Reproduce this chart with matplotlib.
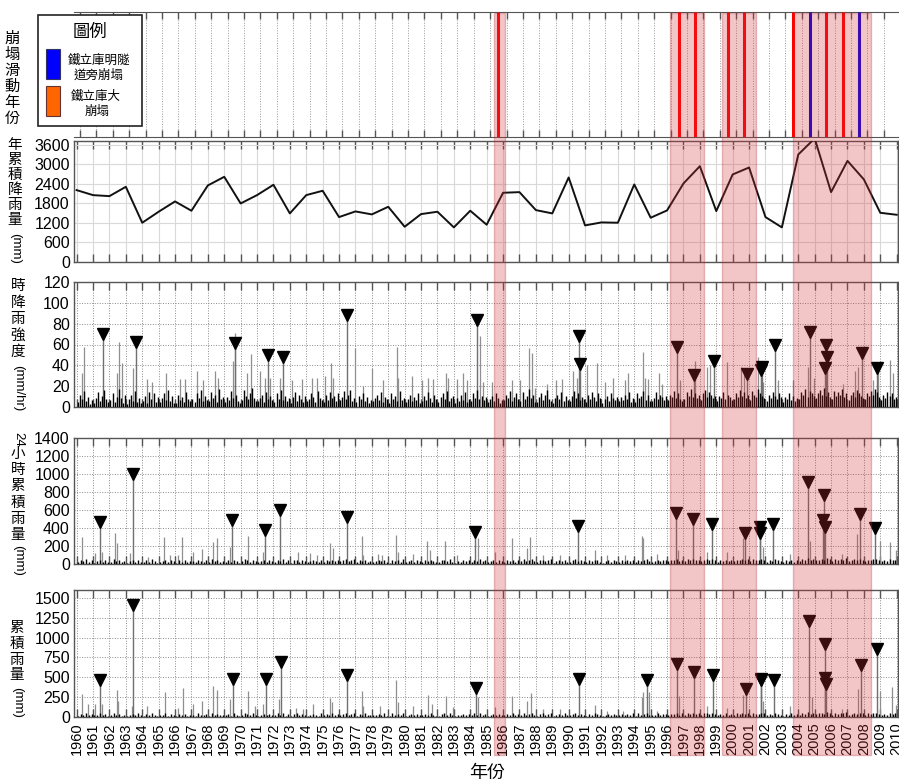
import matplotlib
matplotlib.use("Agg")
import matplotlib.pyplot as plt
import numpy as np
from matplotlib.patches import Rectangle
from matplotlib.transforms import blended_transform_factory

plt.rcParams['font.family'] = ['Liberation Sans', 'Noto Sans CJK TC', 'DejaVu Sans']
CJK = ['Noto Sans CJK TC', 'DejaVu Sans']

# ---------------- data ----------------
years = list(range(1960, 2011))
annual_rain = [2210, 2056, 2025, 2312, 1207, 1545, 1862, 1576, 2353, 2619,
               1800, 2056, 2374, 1494, 2056, 2190, 1381, 1555, 1463, 1698,
               1084, 1473, 1545, 1064, 1576, 1146, 2128, 2148, 1596, 1494,
               2599, 1125, 1217, 1207, 2384, 1361, 1586, 2415, 2946, 1565,
               2691, 2905, 1381, 1064, 3305, 3800, 2148, 3109, 2538, 1513, 1452]

# landslide events (decimal year) and type
event_red = [1985.7, 1996.7, 1997.7, 1999.7, 2000.7, 2003.7, 2005.7, 2006.7]
event_blue = [2004.7, 2007.7]

# highlighted periods (start, end)
periods = [(1985.43, 1986.13), (1996.18, 1998.27), (1999.33, 2001.42), (2003.68, 2008.44)]

# hourly intensity: per-year background maxima (8 per year)
floor_hr = [
    [5, 12, 8, 15, 6, 10, 3, 7], [4, 9, 14, 6, 11, 16, 8, 5], [7, 13, 5, 10, 17, 9, 4, 12],
    [3, 8, 12, 6, 15, 5, 9, 4], [6, 11, 4, 14, 8, 13, 5, 10], [5, 9, 13, 7, 16, 6, 11, 4],
    [4, 12, 7, 10, 5, 14, 8, 6], [8, 5, 13, 9, 16, 6, 11, 7], [6, 14, 9, 12, 5, 17, 8, 10],
    [5, 10, 7, 15, 9, 12, 6, 4], [7, 16, 11, 8, 13, 18, 9, 6], [6, 9, 12, 5, 14, 8, 11, 7],
    [5, 13, 8, 16, 7, 11, 6, 9], [4, 10, 14, 6, 12, 8, 5, 11], [6, 8, 13, 10, 5, 15, 9, 7],
    [5, 12, 7, 14, 9, 11, 6, 13], [7, 10, 15, 8, 12, 16, 6, 9], [5, 11, 8, 13, 6, 10, 4, 7],
    [6, 9, 12, 7, 14, 5, 10, 8], [4, 13, 8, 11, 6, 15, 7, 9], [5, 8, 12, 6, 10, 7, 13, 4],
    [6, 11, 7, 14, 9, 5, 12, 8], [5, 10, 13, 8, 15, 6, 9, 11], [4, 9, 6, 12, 7, 14, 5, 8],
    [6, 13, 9, 16, 8, 11, 7, 10], [5, 8, 11, 6, 13, 9, 4, 7], [7, 12, 9, 15, 6, 10, 13, 8],
    [6, 14, 8, 11, 17, 9, 12, 5], [5, 10, 13, 7, 12, 16, 8, 6], [4, 9, 12, 8, 14, 6, 11, 7],
    [6, 11, 15, 9, 13, 7, 10, 8], [5, 12, 8, 14, 10, 6, 13, 9], [4, 8, 11, 6, 13, 9, 7, 10],
    [6, 10, 7, 12, 8, 14, 5, 9], [5, 13, 9, 11, 15, 7, 12, 6], [6, 9, 14, 8, 12, 10, 7, 11],
    [7, 12, 10, 15, 9, 13, 8, 6], [8, 14, 11, 17, 10, 13, 9, 12], [7, 13, 16, 10, 14, 12, 9, 11],
    [6, 11, 9, 14, 8, 12, 10, 7], [8, 13, 10, 16, 11, 14, 9, 12], [7, 15, 12, 10, 17, 13, 11, 9],
    [6, 12, 9, 14, 11, 8, 13, 10], [5, 10, 8, 13, 7, 11, 6, 9], [8, 14, 12, 17, 10, 15, 13, 11],
    [9, 13, 16, 12, 18, 11, 14, 10], [8, 15, 11, 14, 12, 17, 10, 13], [7, 12, 14, 10, 16, 13, 11, 9],
    [8, 13, 11, 15, 12, 17, 14, 10], [7, 12, 9, 14, 11, 13, 8, 10]]

spike_hr_t = [1960.45, 1960.30, 1962.44, 1962.58, 1962.74, 1963.45, 1964.27, 1964.57, 1965.43,
              1966.30, 1966.60, 1967.32, 1967.72, 1968.43, 1968.63, 1969.55, 1969.65, 1970.40,
              1970.61, 1971.18, 1971.48, 1971.79, 1972.40, 1973.13, 1973.72, 1974.33, 1974.63,
              1975.14, 1975.49, 1975.65, 1976.97, 1977.48, 1977.99, 1978.70, 1979.51, 1979.61,
              1980.43, 1981.04, 1981.44, 1981.74, 1982.50, 1982.66, 1983.17, 1983.57, 1983.78,
              1984.59, 1984.79, 1985.30, 1986.52, 1987.03, 1987.56, 1987.74, 1987.95, 1988.66,
              1989.23, 1989.61, 1990.28, 1990.49, 1991.10, 1991.71, 1992.21, 1992.72, 1993.43,
              1993.64, 1994.51, 1994.65, 1994.86, 1995.50, 1995.67, 1996.79, 1997.70, 1998.41,
              1998.62, 1999.63, 2000.49, 2000.69, 2001.56, 2001.73, 2001.87, 2002.78, 2003.70,
              2004.61, 2004.96, 2006.75, 2007.46, 2007.66, 2008.57, 2008.88, 2009.59, 2009.79]
spike_hr_v = [58, 33, 33, 62, 42, 37, 27, 24, 33, 27, 27, 35, 26, 35, 28, 44, 71, 33, 51, 35,
              28, 28, 28, 26, 27, 28, 28, 30, 42, 28, 57, 20, 37, 26, 58, 28, 30, 26, 28, 27,
              33, 28, 27, 33, 26, 68, 24, 24, 26, 26, 57, 52, 18, 22, 26, 27, 35, 28, 40, 42,
              24, 28, 26, 33, 53, 28, 27, 33, 22, 26, 44, 38, 40, 43, 38, 35, 48, 44, 24, 26,
              26, 38, 28, 22, 35, 38, 26, 38, 45, 33]

tri_hr_t = [1961.60, 1963.60, 1969.65, 1971.65, 1972.56, 1976.50, 1984.43, 1990.65, 1990.70,
            1996.60, 1997.66, 1998.84, 2000.90, 2001.75, 2001.80, 2002.58, 2004.71, 2005.67,
            2005.73, 2005.63, 2007.87, 2008.80]
tri_hr_v = [70, 62, 61, 50, 48, 88, 84, 68, 41, 58, 31, 44, 32, 36, 38, 60, 72, 60, 48, 37, 52, 37]

# 24-hour accumulated rainfall
floor_24 = [
    [20, 45, 30, 60, 25, 40], [15, 35, 50, 25, 40, 20], [25, 55, 30, 45, 20, 35], [15, 30, 45, 20, 50, 25],
    [20, 40, 25, 55, 30, 15], [25, 35, 50, 20, 45, 30], [15, 45, 25, 40, 20, 35], [30, 20, 50, 35, 25, 45],
    [20, 55, 35, 45, 25, 30], [25, 40, 20, 50, 35, 15], [30, 60, 40, 25, 50, 35], [20, 35, 45, 25, 40, 30],
    [25, 50, 30, 55, 20, 40], [15, 40, 50, 25, 45, 30], [20, 30, 45, 35, 20, 50], [25, 45, 30, 50, 35, 40],
    [30, 40, 55, 30, 45, 60], [20, 45, 30, 50, 25, 35], [25, 35, 45, 30, 50, 20], [15, 50, 30, 40, 25, 55],
    [20, 30, 45, 25, 40, 30], [25, 40, 30, 50, 35, 20], [20, 45, 50, 30, 55, 25], [15, 35, 25, 45, 30, 40],
    [25, 50, 35, 55, 30, 40], [20, 30, 40, 25, 45, 35], [25, 45, 35, 50, 25, 40], [30, 55, 30, 40, 60, 35],
    [20, 40, 50, 30, 45, 55], [15, 35, 45, 30, 50, 25], [25, 40, 55, 35, 45, 30], [20, 45, 30, 50, 40, 25],
    [15, 30, 40, 25, 45, 35], [25, 40, 30, 45, 30, 50], [20, 50, 35, 40, 55, 30], [25, 35, 50, 30, 45, 40],
    [30, 45, 40, 55, 35, 50], [35, 55, 45, 60, 40, 50], [30, 50, 60, 40, 55, 45], [25, 45, 35, 50, 30, 40],
    [35, 50, 40, 60, 45, 55], [30, 55, 45, 40, 60, 50], [25, 45, 35, 55, 40, 30], [20, 40, 30, 50, 25, 45],
    [35, 55, 45, 65, 40, 60], [40, 50, 60, 45, 65, 55], [35, 60, 45, 55, 50, 65], [30, 45, 55, 40, 60, 50],
    [35, 50, 45, 60, 55, 40], [30, 45, 35, 55, 40, 50]]

spike_24_t = [1960.30, 1961.12, 1961.52, 1962.34, 1962.44, 1963.25, 1964.37, 1965.34, 1965.69, 1966.20,
              1966.40, 1967.11, 1967.62, 1968.33, 1968.54, 1969.35, 1970.47, 1971.38, 1973.52, 1974.23,
              1974.63, 1975.45, 1975.65, 1977.40, 1977.48, 1978.39, 1978.60, 1979.45, 1979.61, 1980.53,
              1981.34, 1981.54, 1982.46, 1983.17, 1984.49, 1985.51, 1986.52, 1987.44, 1987.64, 1988.45,
              1989.47, 1991.60, 1992.32, 1993.43, 1994.45, 1994.55, 1995.37, 1996.69, 1998.41, 1999.63,
              2000.60, 2001.87, 2003.49, 2004.71, 2006.64, 2007.56, 2008.98, 2009.59, 2009.95]
spike_24_v = [305, 119, 135, 340, 228, 121, 82, 300, 97, 97, 305, 135, 170, 247, 290, 194, 315, 135,
              135, 121, 97, 228, 174, 315, 97, 111, 97, 320, 135, 111, 261, 155, 261, 97, 287, 135,
              287, 174, 297, 97, 97, 155, 97, 97, 313, 290, 111, 155, 135, 135, 290, 194, 111, 261,
              111, 329, 261, 247, 155]

tri_24_t = [1961.42, 1963.45, 1969.49, 1971.48, 1972.40, 1976.46, 1984.29, 1990.55, 1996.52, 1997.56,
            1998.74, 2000.75, 2001.67, 2001.67, 2002.44, 2004.61, 2005.57, 2005.53, 2005.65, 2007.76, 2008.68]
tri_24_v = [472, 995, 484, 380, 603, 517, 361, 424, 566, 500, 447, 350, 410, 350, 447, 913, 771, 492,
            416, 559, 399]

# event accumulated rainfall
floor_acc = [
    [15, 40, 25, 50, 20, 35], [20, 30, 45, 20, 35, 15], [20, 45, 25, 40, 15, 30], [15, 25, 40, 20, 45, 20],
    [15, 35, 20, 50, 25, 15], [20, 30, 45, 15, 40, 25], [15, 40, 20, 35, 15, 30], [25, 15, 45, 30, 20, 40],
    [15, 50, 30, 40, 20, 25], [20, 35, 15, 45, 30, 15], [25, 50, 35, 20, 45, 30], [15, 30, 40, 20, 35, 25],
    [20, 45, 25, 50, 15, 35], [15, 35, 45, 20, 40, 25], [15, 25, 40, 30, 15, 45], [20, 40, 25, 45, 30, 35],
    [25, 35, 50, 25, 40, 55], [15, 40, 25, 45, 20, 30], [20, 30, 40, 25, 45, 15], [15, 45, 25, 35, 20, 50],
    [15, 25, 40, 20, 35, 25], [20, 35, 25, 45, 30, 15], [15, 40, 45, 25, 50, 20], [15, 30, 20, 40, 25, 35],
    [20, 45, 30, 50, 25, 35], [15, 25, 35, 20, 40, 30], [20, 40, 30, 45, 20, 35], [25, 50, 25, 35, 55, 30],
    [15, 35, 45, 25, 40, 50], [15, 30, 40, 25, 45, 20], [20, 35, 50, 30, 40, 25], [15, 40, 25, 45, 35, 20],
    [15, 25, 35, 20, 40, 30], [20, 35, 25, 40, 25, 45], [15, 45, 30, 35, 50, 25], [20, 30, 45, 25, 40, 35],
    [25, 40, 35, 50, 30, 45], [30, 50, 40, 55, 35, 45], [25, 45, 55, 35, 50, 40], [20, 40, 30, 45, 25, 35],
    [30, 45, 35, 55, 40, 50], [25, 50, 40, 35, 55, 45], [20, 40, 30, 50, 35, 25], [15, 35, 25, 45, 20, 40],
    [30, 50, 40, 60, 35, 55], [35, 45, 55, 40, 60, 50], [30, 55, 40, 50, 45, 60], [25, 40, 50, 35, 55, 45],
    [30, 45, 40, 55, 50, 35], [25, 40, 30, 50, 35, 45]]

spike_acc_t = [1960.30, 1960.71, 1961.12, 1961.52, 1962.44, 1962.54, 1963.35, 1964.27, 1965.38, 1966.20,
               1966.46, 1967.11, 1967.62, 1968.33, 1968.57, 1969.35, 1970.47, 1970.87, 1971.38, 1972.36,
               1973.37, 1973.82, 1974.43, 1975.45, 1975.55, 1977.38, 1977.48, 1978.50, 1979.47, 1979.61,
               1980.53, 1981.44, 1981.65, 1982.50, 1982.97, 1984.49, 1985.51, 1986.52, 1987.44, 1987.68,
               1988.45, 1989.47, 1991.60, 1992.32, 1993.33, 1994.45, 1994.55, 1994.92, 1995.37, 1996.74,
               1998.41, 1999.63, 2000.65, 2001.87, 2003.49, 2004.82, 2006.64, 2007.66, 2008.98, 2009.69, 2009.95]
spike_acc_v = [295, 164, 164, 164, 345, 197, 138, 138, 320, 118, 361, 164, 197, 391, 335, 227, 323, 138,
               164, 227, 118, 99, 164, 237, 187, 323, 138, 138, 462, 187, 138, 271, 164, 262, 125, 250,
               126, 266, 197, 303, 99, 99, 148, 79, 79, 250, 314, 314, 79, 266, 138, 108, 276, 197, 138,
               246, 99, 355, 325, 375, 148]

tri_acc_t = [1961.42, 1963.45, 1969.55, 1971.52, 1972.46, 1976.46, 1984.35, 1990.61, 1994.75, 1996.58,
             1997.62, 1998.82, 2000.81, 2001.71, 2001.71, 2002.52, 2004.65, 2005.65, 2005.61, 2005.69,
             2007.80, 2008.78]
tri_acc_v = [471, 1408, 484, 479, 689, 526, 366, 484, 471, 672, 567, 534, 358, 484, 462, 462, 1206, 916,
             496, 412, 661, 853]

xtick_years = list(range(1960, 2011))

# ---------------- layout ----------------
W, H = 899, 782
fig = plt.figure(figsize=(W / 100, H / 100), dpi=100)
XMIN, XMAX = 1959.84, 2010.08
SP = '#555555'


def ax_at(t, b, l=74, r=898):
    return fig.add_axes([l / W, 1 - b / H, (r - l) / W, (b - t) / H])


def style_common(ax, grid_style):
    ax.set_xlim(XMIN, XMAX)
    ax.set_xticks(xtick_years)
    for s in ax.spines.values():
        s.set_color(SP)
        s.set_linewidth(1.0)
    ax.tick_params(axis='x', direction='in', length=6, width=1, color=SP, top=True, bottom=True,
                   labelbottom=False)
    ax.tick_params(axis='y', length=0, labelsize=11.5, pad=3)
    if grid_style == 'solid':
        ax.grid(True, color='#d9d9d9', lw=0.8, ls='-')
    else:
        ax.grid(True, color='#8c8c8c', lw=0.7, ls=(0, (1, 1.6)))
    ax.set_axisbelow(True)


def draw_floor(ax, floor):
    xs, ys = [], []
    for yi, vals in enumerate(floor):
        n = len(vals)
        for i, v in enumerate(vals):
            xs.append(years[yi] + (i + 0.5) / n)
            ys.append(v)
    ax.vlines(xs, 0, ys, color='black', lw=1.0, zorder=3)


# panel 1: landslide years
ax1 = ax_at(12, 137)
ax1.set_xlim(XMIN, XMAX)
ax1.set_ylim(0, 1)
ax1.set_yticks([])
top_ticks = [y + 0.21 for y in years[:-1]]
ax1.set_xticks(top_ticks)
ax1.tick_params(axis='x', direction='in', length=5, width=1, color=SP, top=True, bottom=True,
                labelbottom=False)
ax1.grid(True, axis='x', color='#999999', lw=0.7, ls=(0, (1, 1.6)))
ax1.spines['left'].set_visible(False)
ax1.spines['right'].set_visible(False)
for s in ('top', 'bottom'):
    ax1.spines[s].set_color(SP)
ax1.vlines(event_red, 0, 1, color='#ff0000', lw=2.2, zorder=3)
ax1.vlines(event_blue, 0, 1, color='#0000e0', lw=2.2, zorder=3)

# panel 2: annual rainfall
ax2 = ax_at(141, 262)
style_common(ax2, 'solid')
ax2.plot(years, annual_rain, color='#111111', lw=1.4, zorder=3)
ax2.set_ylim(0, 3720)
ax2.set_yticks(range(0, 3601, 600))

# panel 3: hourly intensity
ax3 = ax_at(282, 407)
style_common(ax3, 'dot')
ax3.vlines(spike_hr_t, 0, spike_hr_v, color='#8f8f8f', lw=0.9, zorder=2)
ax3.vlines(tri_hr_t, 0, tri_hr_v, color='#707070', lw=1.0, zorder=2)
draw_floor(ax3, floor_hr)
ax3.plot(tri_hr_t, tri_hr_v, 'v', color='black', ms=8, zorder=4)
ax3.set_ylim(0, 120)
ax3.set_yticks(range(0, 121, 20))

# panel 4: 24-hour accumulation
ax4 = ax_at(438, 564)
style_common(ax4, 'dot')
ax4.vlines(spike_24_t, 0, spike_24_v, color='#8f8f8f', lw=0.9, zorder=2)
ax4.vlines(tri_24_t, 0, tri_24_v, color='#707070', lw=1.0, zorder=2)
draw_floor(ax4, floor_24)
ax4.plot(tri_24_t, tri_24_v, 'v', color='black', ms=8, zorder=4)
ax4.set_ylim(0, 1400)
ax4.set_yticks(range(0, 1401, 200))

# panel 5: accumulated rainfall
ax5 = ax_at(590, 717)
style_common(ax5, 'dot')
ax5.vlines(spike_acc_t, 0, spike_acc_v, color='#8f8f8f', lw=0.9, zorder=2)
ax5.vlines(tri_acc_t, 0, tri_acc_v, color='#707070', lw=1.0, zorder=2)
draw_floor(ax5, floor_acc)
ax5.plot(tri_acc_t, tri_acc_v, 'v', color='black', ms=8, zorder=4)
ax5.set_ylim(0, 1600)
ax5.set_yticks(range(0, 1501, 250))
ax5.tick_params(axis='x', labelbottom=True, labelrotation=90, labelsize=10.5, pad=4)

# highlighted periods across the whole figure
trans = blended_transform_factory(ax5.transData, fig.transFigure)
y_lo, y_hi = 1 - 755 / H, 1 - 13 / H
for a, b in periods:
    fig.add_artist(Rectangle((a, y_lo), b - a, y_hi - y_lo, transform=trans,
                             facecolor='#d23138', alpha=0.28, edgecolor='#b02028', lw=1.0,
                             zorder=10))


# y labels (vertical CJK text)
def vchars(s, x, y0, step, fs=11):
    for i, ch in enumerate(s):
        fig.text(x / W, 1 - (y0 + i * step) / H, ch, ha='center', va='center', fontsize=fs,
                 family=CJK)


def vrot(s, x, yc, fs=9.5):
    fig.text(x / W, 1 - yc / H, s, ha='center', va='center', rotation=-90, fontsize=fs)


vchars('崩塌滑動年份', 12, 38, 16)
vchars('年累積降雨量', 15, 145, 15, fs=10.5)
vrot('(mm)', 15, 248)
vchars('時降雨強度', 18, 286, 16.5, fs=10.5)
vrot('(mm/hr)', 18, 388)
vrot('24', 18, 439)
vchars('小時累積雨量', 18, 454, 16.2, fs=10.5)
vrot('(mm)', 18, 560)
vchars('累積雨量', 17, 628, 15.8, fs=10.5)
vrot('(mm)', 17, 702)

fig.text(487 / W, 1 - 773 / H, '年份', ha='center', va='center', fontsize=13, family=CJK)

# legend box
def rect_px(x0, y0, x1, y1, **kw):
    fig.add_artist(Rectangle((x0 / W, 1 - y1 / H), (x1 - x0) / W, (y1 - y0) / H,
                             transform=fig.transFigure, **kw))


rect_px(38, 15, 142, 126, facecolor='white', edgecolor='#222222', lw=1.2, zorder=20)
fig.text(90 / W, 1 - 32 / H, '圖例', ha='center', va='center', fontsize=12.5, family=CJK, zorder=21)
rect_px(46, 49, 60, 79, facecolor='#0000ff', edgecolor='#333366', lw=0.8, zorder=21)
fig.text(99 / W, 1 - 60 / H, '鐵立庫明隧', ha='center', va='center', fontsize=9, family=CJK, zorder=21)
fig.text(99 / W, 1 - 75 / H, '道旁崩塌', ha='center', va='center', fontsize=9, family=CJK, zorder=21)
rect_px(46, 86, 60, 116, facecolor='#ff6600', edgecolor='#663333', lw=0.8, zorder=21)
fig.text(96 / W, 1 - 96 / H, '鐵立庫大', ha='center', va='center', fontsize=9, family=CJK, zorder=21)
fig.text(97 / W, 1 - 111 / H, '崩塌', ha='center', va='center', fontsize=9, family=CJK, zorder=21)

fig.savefig('out.png', dpi=100)
